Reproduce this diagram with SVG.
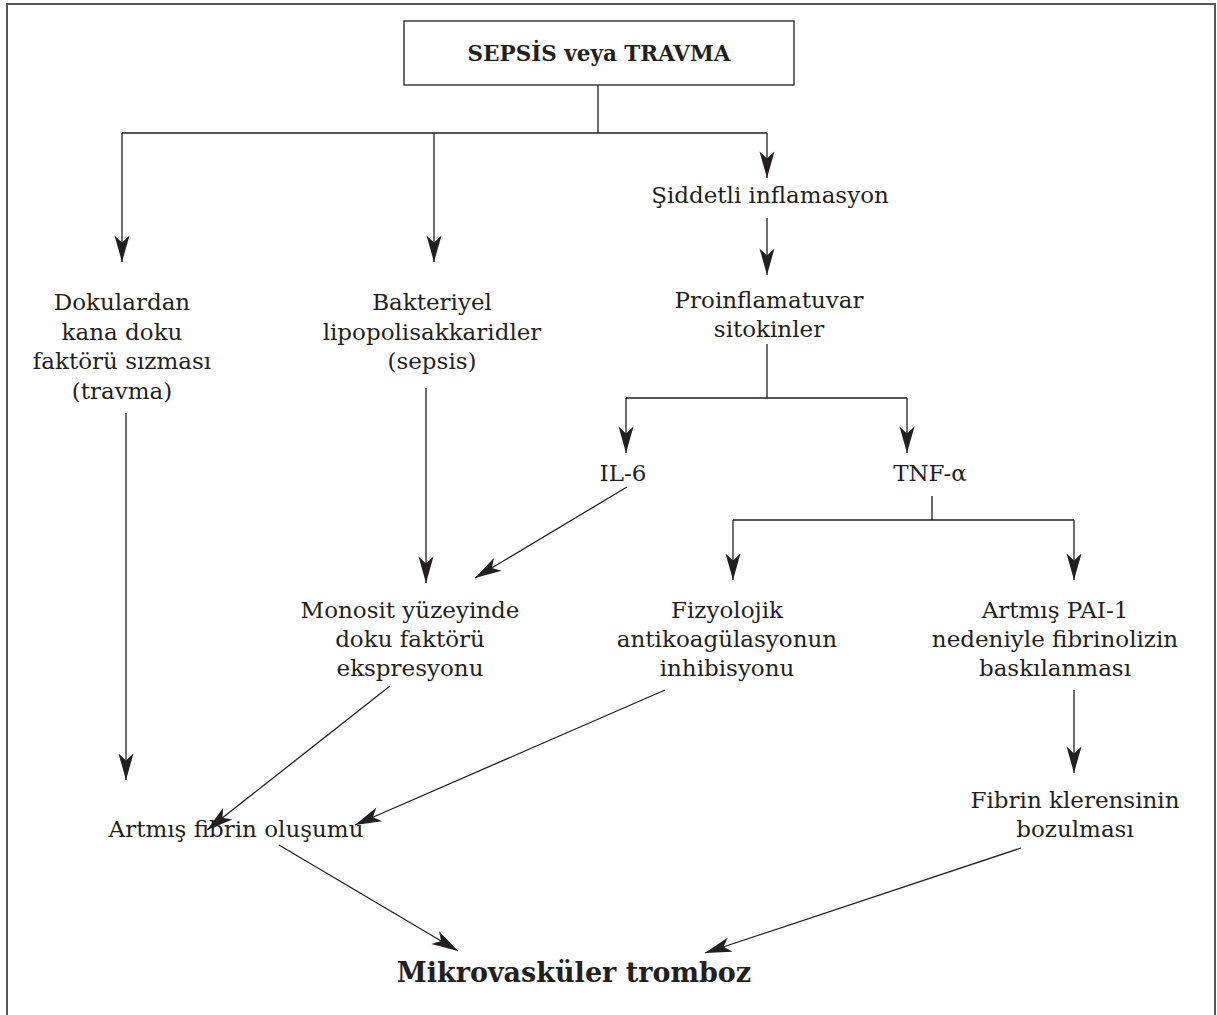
<svg xmlns="http://www.w3.org/2000/svg" width="1217" height="1015" viewBox="0 0 1217 1015">
<style>
text{font-family:"DejaVu Serif","Liberation Serif",serif;fill:#231f20;text-anchor:middle}
.t{font-size:23px}
.b{font-weight:bold}
.ln{stroke:#231f20;stroke-width:1.3;fill:none}
.ar{stroke:#231f20;stroke-width:1.3;fill:none;marker-end:url(#ah)}
</style>
<defs>
<marker id="ah" markerUnits="userSpaceOnUse" markerWidth="30" markerHeight="20" viewBox="-24 -8 26 16" refX="0" refY="0" orient="auto">
<path d="M0,0 L-23,-6.5 L-17,0 L-23,6.5 Z" fill="#231f20"/>
</marker>
</defs>
<rect width="1217" height="1015" fill="#fff"/>
<path d="M7,1015 V4 H1215 V1015" fill="none" stroke="#555" stroke-width="2"/>

<g id="connectors">
<path class="ln" d="M598,85 V133 M122,133 H767"/>
<path class="ar" d="M122,133 V262"/>
<path class="ar" d="M434,133 V262"/>
<path class="ar" d="M767,133 V178"/>
<path class="ar" d="M767,218 V275"/>
<path class="ln" d="M767,344 V398 M626,398 H907"/>
<path class="ar" d="M626,398 V453"/>
<path class="ar" d="M907,398 V453"/>
<path class="ar" d="M627,487 L475,578"/>
<path class="ln" d="M932,496 V520 M733,520 H1074"/>
<path class="ar" d="M733,520 V580"/>
<path class="ar" d="M1074,520 V580"/>
<path class="ar" d="M126,413 V780"/>
<path class="ar" d="M426,388 V583"/>
<path class="ar" d="M1074,690 V773"/>
<path class="ar" d="M390,686 L207,830"/>
<path class="ar" d="M665,690 L355,825"/>
<path class="ar" d="M279,845 L458,951"/>
<path class="ar" d="M1021,848 L705,953"/>
</g>

<g id="sepsis">
<rect x="404" y="21" width="390" height="64" fill="#fff" stroke="#231f20" stroke-width="1.3"/>
<text class="b" x="599" y="61" font-size="21.5">SEPSİS veya TRAVMA</text>
</g>
<g id="dokulardan">
<text class="t" x="122" y="310">Dokulardan</text>
<text class="t" x="122" y="339.5">kana doku</text>
<text class="t" x="122" y="369">faktörü sızması</text>
<text class="t" x="122" y="398.5">(travma)</text>
</g>
<g id="bakteriyel">
<text class="t" x="432" y="310">Bakteriyel</text>
<text class="t" x="432" y="339.5">lipopolisakkaridler</text>
<text class="t" x="432" y="369">(sepsis)</text>
</g>
<g id="siddetli">
<text class="t" x="770" y="203">Şiddetli inflamasyon</text>
</g>
<g id="proinflamatuvar">
<text class="t" x="769" y="308">Proinflamatuvar</text>
<text class="t" x="769" y="337">sitokinler</text>
</g>
<g id="il6">
<text class="t" x="623" y="481">IL-6</text>
</g>
<g id="tnf">
<text class="t" x="930" y="481">TNF-α</text>
</g>
<g id="monosit">
<text class="t" x="410" y="618">Monosit yüzeyinde</text>
<text class="t" x="410" y="647">doku faktörü</text>
<text class="t" x="410" y="676">ekspresyonu</text>
</g>
<g id="fizyolojik">
<text class="t" x="727" y="618">Fizyolojik</text>
<text class="t" x="727" y="647">antikoagülasyonun</text>
<text class="t" x="727" y="676">inhibisyonu</text>
</g>
<g id="pai1">
<text class="t" x="1055" y="618">Artmış PAI-1</text>
<text class="t" x="1055" y="647">nedeniyle fibrinolizin</text>
<text class="t" x="1055" y="676">baskılanması</text>
</g>
<g id="fibrinklerens">
<text class="t" x="1075" y="808">Fibrin klerensinin</text>
<text class="t" x="1075" y="837">bozulması</text>
</g>
<g id="artmisfibrin">
<text class="t" x="236" y="837">Artmış fibrin oluşumu</text>
</g>
<g id="mikrovaskuler">
<text class="b" x="574" y="982" font-size="27">Mikrovasküler tromboz</text>
</g>
</svg>
